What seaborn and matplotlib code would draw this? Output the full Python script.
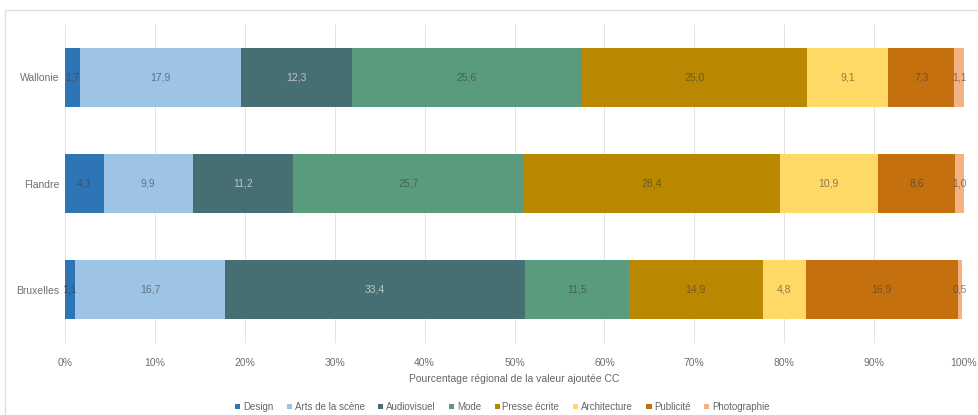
import matplotlib
matplotlib.use("Agg")
import matplotlib.pyplot as plt
from matplotlib.patches import Rectangle, Patch
import numpy as np
import pandas as pd
import seaborn as sns

regions = ["Wallonie", "Flandre", "Bruxelles"]
sectors = ["Design", "Arts de la scène", "Audiovisuel", "Mode",
           "Presse écrite", "Architecture", "Publicité", "Photographie"]
design = [1.7, 4.3, 1.1]
arts_scene = [17.9, 9.9, 16.7]
audiovisuel = [12.3, 11.2, 33.4]
mode = [25.6, 25.7, 11.5]
presse = [25.0, 28.4, 14.9]
architecture = [9.1, 10.9, 4.8]
publicite = [7.3, 8.6, 16.9]
photographie = [1.1, 1.0, 0.5]
x_ticks = [0, 10, 20, 30, 40, 50, 60, 70, 80, 90, 100]
x_label = "Pourcentage régional de la valeur ajoutée CC"

colors = ["#2E75B6", "#9DC3E6", "#466F73", "#5B9B7D",
          "#BA8800", "#FFD966", "#C5700E", "#F4B183"]

values = pd.DataFrame(
    [design, arts_scene, audiovisuel, mode, presse, architecture, publicite, photographie],
    index=sectors, columns=regions)
cum = values.cumsum(axis=0)

sns.set_theme(style="white")
plt.rcParams["font.family"] = ["Liberation Sans", "DejaVu Sans"]

fig = plt.figure(figsize=(9.79, 4.15), dpi=100)
ax = fig.add_axes([65 / 979, 1 - 343 / 415, (964 - 65) / 979, (343 - 24) / 415])

# Stacked bars: draw cumulative totals from the outermost segment inwards
for i in range(len(sectors) - 1, -1, -1):
    df = pd.DataFrame({"region": regions, "total": cum.iloc[i].values})
    sns.barplot(data=df, y="region", x="total", orient="h", color=colors[i],
                saturation=1, width=0.555, ax=ax, order=regions, edgecolor="none")

# Segment labels
for i, sector in enumerate(sectors):
    for j, region in enumerate(regions):
        v = values.loc[sector, region]
        centre = cum.loc[sector, region] - v / 2
        txt_color = "#C8CCCC" if sector == "Audiovisuel" else "#3A3A3A"
        alpha = 0.9 if sector == "Audiovisuel" else 0.6
        ax.text(centre, j, f"{v:.1f}".replace(".", ","), ha="center", va="center",
                fontsize=7.5, color=txt_color, alpha=alpha)

ax.set_xlim(0, 100)
ax.set_ylim(2.5, -0.5)
ax.set_xticks(x_ticks)
ax.set_xticklabels([f"{t}%" for t in x_ticks])
ax.set_xlabel(x_label, fontsize=7.5, color="#666666", labelpad=4)
ax.set_ylabel("")
ax.tick_params(axis="both", length=0, labelsize=7.5, colors="#6F6F6F")
ax.tick_params(axis="x", pad=11)
ax.tick_params(axis="y", pad=4)
ax.grid(axis="x", color="#E3E3E3", linewidth=0.7)
ax.set_axisbelow(True)
for s in ax.spines.values():
    s.set_visible(False)

handles = [Patch(facecolor=c, edgecolor="none") for c in colors]
fig.legend(handles, sectors, loc="center", bbox_to_anchor=(0.513, 1 - 407 / 415),
           ncol=8, frameon=False, fontsize=7, handlelength=0.55, handleheight=0.55,
           handletextpad=0.25, columnspacing=1.4, labelcolor="#666666")

# Light chart frame
fig.patches.append(Rectangle((5 / 979, -0.1), 1.2, 1 - 10 / 415 + 0.1,
                             transform=fig.transFigure, fill=False,
                             edgecolor="#DDDDDD", linewidth=1))

fig.savefig("out.png", dpi=100)
